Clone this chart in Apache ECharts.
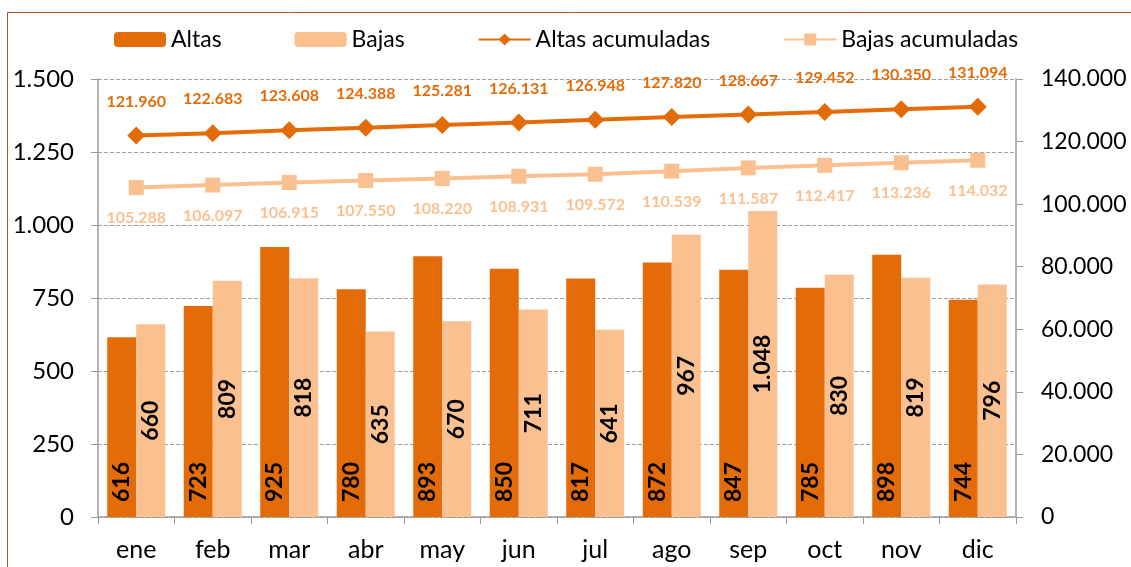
<!DOCTYPE html>
<html>
<head>
<meta charset="utf-8">
<script src="https://cdn.jsdelivr.net/npm/echarts@6/dist/echarts.min.js"></script>
<style>
html, body { margin: 0; padding: 0; background: #fff; }
#chart { width: 1131px; height: 567px; }
</style>
</head>
<body>
<div id="chart"></div>
<script>
var months = ['ene', 'feb', 'mar', 'abr', 'may', 'jun', 'jul', 'ago', 'sep', 'oct', 'nov', 'dic'];
var altas = [616, 723, 925, 780, 893, 850, 817, 872, 847, 785, 898, 744];
var bajas = [660, 809, 818, 635, 670, 711, 641, 967, 1048, 830, 819, 796];
var altasAcum = [121960, 122683, 123608, 124388, 125281, 126131, 126948, 127820, 128667, 129452, 130350, 131094];
var bajasAcum = [105288, 106097, 106915, 107550, 108220, 108931, 109572, 110539, 111587, 112417, 113236, 114032];

// miles con punto, como en el original
var fmt = function(v) {
	return String(v).replace(/\B(?=(\d{3})+(?!\d))/g, '.');
};

var font = 'Lato';
var dark = '#E36C09';
var light = '#FAC090';

var myChart = echarts.init(document.getElementById('chart'));

var option = {
	backgroundColor: '#ffffff',
	textStyle: { fontFamily: font },
	graphic: [{
		type: 'rect',
		shape: { x: 7.5, y: 12.5, width: 1140, height: 580 },
		style: { fill: 'none', stroke: '#A5531F', lineWidth: 1 },
		silent: true
	}],
	legend: {
		left: 109,
		top: 23,
		itemWidth: 52,
		itemHeight: 15,
		itemGap: 73,
		textStyle: { fontSize: 23, color: '#000', fontFamily: font },
		data: ['Altas', 'Bajas', 'Altas acumuladas', 'Bajas acumuladas']
	},
	grid: { left: 98, right: 115, top: 79, bottom: 50 },
	xAxis: {
		type: 'category',
		data: months,
		axisLine: { lineStyle: { color: '#9a9a9a', width: 1.5 } },
		axisTick: { show: true, length: 7, lineStyle: { color: '#9a9a9a' } },
		axisLabel: { fontSize: 25, color: '#000', margin: 20, fontFamily: font }
	},
	yAxis: [{
		type: 'value',
		min: 0,
		max: 1500,
		interval: 250,
		axisLine: { show: true, lineStyle: { color: '#9a9a9a', width: 1.5 } },
		axisTick: { show: true, length: 7, lineStyle: { color: '#9a9a9a' } },
		axisLabel: { fontSize: 24, color: '#000', margin: 24, formatter: fmt, fontFamily: font },
		splitLine: { lineStyle: { color: '#a0a0a0', type: 'dashed' } }
	}, {
		type: 'value',
		min: 0,
		max: 140000,
		interval: 20000,
		position: 'right',
		axisLine: { show: true, lineStyle: { color: '#9a9a9a', width: 1.5 } },
		axisTick: { show: true, length: 7, lineStyle: { color: '#9a9a9a' } },
		axisLabel: { fontSize: 23, color: '#000', margin: 25, formatter: fmt, fontFamily: font },
		splitLine: { show: false }
	}],
	series: [{
		name: 'Altas',
		type: 'bar',
		data: altas,
		barWidth: 29,
		barGap: '0%',
		itemStyle: { color: dark },
		label: {
			show: true,
			position: 'insideBottom',
			rotate: 90,
			align: 'left',
			verticalAlign: 'middle',
			distance: 15,
			fontSize: 23,
			fontWeight: 'bold',
			color: '#000',
			formatter: function(p) { return fmt(p.value); }
		}
	}, {
		name: 'Bajas',
		type: 'bar',
		data: bajas,
		barWidth: 29,
		itemStyle: { color: light },
		label: {
			show: true,
			position: 'inside',
			rotate: 90,
			fontSize: 23,
			fontWeight: 'bold',
			color: '#000',
			formatter: function(p) { return fmt(p.value); }
		}
	}, {
		name: 'Altas acumuladas',
		type: 'line',
		yAxisIndex: 1,
		data: altasAcum,
		symbol: 'diamond',
		symbolSize: 18,
		lineStyle: { color: dark, width: 4 },
		itemStyle: { color: dark },
		label: {
			show: true,
			position: 'top',
			distance: 17,
			fontSize: 16,
			fontWeight: 'bold',
			color: dark,
			formatter: function(p) { return fmt(p.value); }
		}
	}, {
		name: 'Bajas acumuladas',
		type: 'line',
		yAxisIndex: 1,
		data: bajasAcum,
		symbol: 'rect',
		symbolSize: 15,
		lineStyle: { color: light, width: 4 },
		itemStyle: { color: light },
		label: {
			show: true,
			position: 'bottom',
			distance: 15,
			fontSize: 16,
			fontWeight: 'bold',
			color: light,
			formatter: function(p) { return fmt(p.value); }
		}
	}]
};

myChart.setOption(option);
</script>
</body>
</html>
